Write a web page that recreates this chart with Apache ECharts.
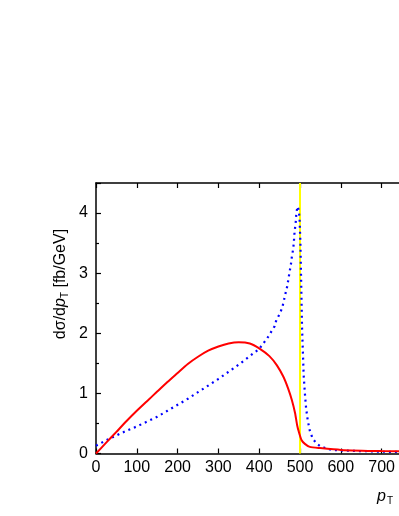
<!DOCTYPE html>
<html>
<head>
<meta charset="utf-8">
<script src="https://cdn.jsdelivr.net/npm/echarts@6/dist/echarts.min.js"></script>
<style>
  html, body { margin: 0; padding: 0; background: #fff; }
  #chart { width: 399px; height: 516px; }
</style>
</head>
<body>
<div id="chart"></div>
<script>
// pT values and cross sections
var redPt = [0, 25, 50, 75, 100, 125, 150, 175, 200, 225, 250, 275, 300, 325, 350, 377, 400, 425, 443, 459, 471, 480, 488, 493, 498, 504, 512, 524, 549, 600, 700, 800];
var redY  = [0, 0.18, 0.36, 0.54, 0.71, 0.87, 1.03, 1.19, 1.34, 1.49, 1.61, 1.71, 1.78, 1.83, 1.85, 1.83, 1.75, 1.62, 1.47, 1.28, 1.08, 0.89, 0.67, 0.47, 0.34, 0.22, 0.16, 0.11, 0.09, 0.06, 0.04, 0.03];

var bluePt = [0, 25, 50, 75, 100, 125, 150, 175, 200, 225, 250, 275, 300, 325, 350, 375, 400, 420, 438, 442, 451, 457, 461, 465, 469, 472, 475, 478, 480, 483, 485, 486, 488, 490, 491, 494, 497, 499, 501, 503, 505, 507, 509, 512, 515, 519, 524, 531, 540, 550, 562, 578, 600, 650, 700, 800];
var blueY  = [0.13, 0.22, 0.30, 0.38, 0.45, 0.53, 0.61, 0.71, 0.81, 0.91, 1.02, 1.13, 1.24, 1.36, 1.48, 1.61, 1.74, 1.92, 2.12, 2.22, 2.33, 2.44, 2.56, 2.68, 2.79, 2.92, 3.04, 3.16, 3.27, 3.39, 3.51, 3.63, 3.76, 3.88, 4.0, 4.11, 4.05, 3.9, 3.5, 2.8, 2.1, 1.7, 1.3, 1.0, 0.75, 0.55, 0.38, 0.25, 0.17, 0.12, 0.09, 0.06, 0.05, 0.04, 0.03, 0.02];

var cutPt = 500;
var xTicks = [0, 100, 200, 300, 400, 500, 600, 700, 800];
var yTicks = [0, 1, 2, 3, 4];

function pairs(xs, ys) {
  return xs.map(function (x, i) { return [x, ys[i]]; });
}

var font = '"Liberation Sans", Arial, sans-serif';
var chart = echarts.init(document.getElementById('chart'));

var option = {
  backgroundColor: '#fff',
  animation: false,
  // plot runs past the right edge of the window, like the original
  grid: { left: 96, top: 183, width: 326.4, height: 270.5, outerBoundsMode: 'none', containLabel: false },
  xAxis: [{
    type: 'value',
    min: xTicks[0],
    max: xTicks[xTicks.length - 1],
    interval: 100,
    position: 'bottom',
    axisLine: { show: true, onZero: false, lineStyle: { color: '#000', width: 1.5 } },
    axisTick: { show: true, inside: true, length: 5, lineStyle: { color: '#000', width: 1.2 } },
    axisLabel: { color: '#000', fontSize: 16, fontFamily: font, margin: 6 },
    splitLine: { show: false }
  }, {
    type: 'value',
    min: xTicks[0],
    max: xTicks[xTicks.length - 1],
    interval: 100,
    position: 'top',
    axisLine: { show: true, onZero: false, lineStyle: { color: '#000', width: 1.5 } },
    axisTick: { show: true, inside: true, length: 5, lineStyle: { color: '#000', width: 1.2 } },
    axisLabel: { show: false },
    splitLine: { show: false }
  }],
  yAxis: {
    type: 'value',
    min: 0,
    max: 4.5,
    interval: 1,
    axisLine: { show: true, onZero: false, lineStyle: { color: '#000', width: 1.5 } },
    axisTick: { show: true, inside: true, length: 5, lineStyle: { color: '#000', width: 1.2 } },
    minorTick: { show: true, splitNumber: 2, length: 3, lineStyle: { color: '#000', width: 1.2 } },
    axisLabel: {
      color: '#000', fontSize: 16, fontFamily: font, margin: 8,
      formatter: function (v) { return yTicks.indexOf(v) >= 0 ? String(v) : ''; }
    },
    splitLine: { show: false }
  },
  series: [{
    type: 'line',
    data: [[cutPt, 0], [cutPt, 4.5]],
    symbol: 'none',
    lineStyle: { color: '#ffff00', width: 2 },
    z: 1
  }, {
    type: 'line',
    data: pairs(bluePt, blueY),
    symbol: 'none',
    smooth: false,
    lineStyle: { color: '#0000ff', width: 2.2, type: [2, 4] },
    z: 2
  }, {
    type: 'line',
    data: pairs(redPt, redY),
    symbol: 'none',
    smooth: 0.2,
    lineStyle: { color: '#ff0000', width: 2 },
    z: 3
  }],
  graphic: [{
    type: 'text',
    x: 61,
    y: 284,
    rotation: Math.PI / 2,
    style: {
      text: 'dσ/d{i|p}{s|T} [fb/GeV]',
      fill: '#000',
      font: '16px ' + font,
      align: 'center',
      verticalAlign: 'middle',
      rich: {
        i: { fontStyle: 'italic', fontSize: 16, fontFamily: font },
        s: { fontSize: 10, fontFamily: font, padding: [9, 0, 0, 0] }
      }
    }
  }, {
    type: 'text',
    x: 377,
    y: 497,
    style: {
      text: '{i|p}{s|T}',
      fill: '#000',
      align: 'left',
      verticalAlign: 'middle',
      rich: {
        i: { fontStyle: 'italic', fontSize: 16, fontFamily: font },
        s: { fontSize: 10, fontFamily: font, padding: [9, 0, 0, 1] }
      }
    }
  }]
};

chart.setOption(option);
</script>
</body>
</html>
